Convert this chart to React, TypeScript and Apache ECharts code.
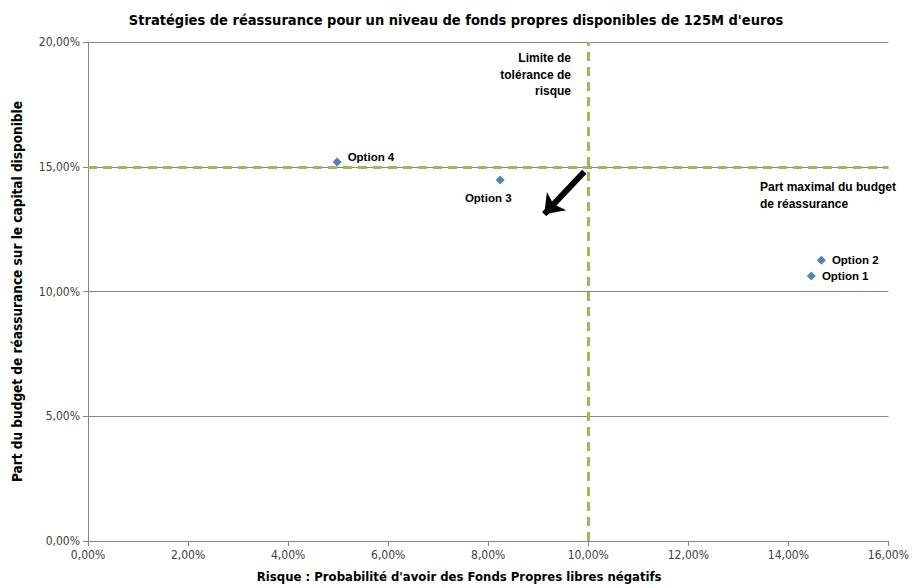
import React, { useEffect, useRef } from "react";
import * as echarts from "echarts";

const optionNames = ["Option 1", "Option 2", "Option 3", "Option 4"];
const riskValues = [14.46, 14.66, 8.24, 4.98];
const budgetValues = [10.62, 11.25, 14.47, 15.19];
const labelPositions = ["right", "right", "bottom", "right"];
const xTicks = { min: 0, max: 16, interval: 2 };
const yTicks = { min: 0, max: 20, interval: 5 };
const riskLimit = 10;
const budgetLimit = 15;
const arrowFrom = [9.92, 14.8];
const arrowTo = [9.12, 13.1];

const fmt = (v: number) => v.toFixed(2).replace(".", ",") + "%";

export default function App() {
  const ref = useRef<HTMLDivElement>(null);
  useEffect(() => {
    document.body.style.margin = "0";
    const chart = echarts.init(ref.current!, null, { renderer: "svg" });
    const font = "'Liberation Sans Narrow', 'DejaVu Sans Condensed', 'Liberation Sans', sans-serif";
    const labelFont = "'Liberation Sans', Arial, sans-serif";
    const data = optionNames.map((n, i) => ({
      name: n,
      value: [riskValues[i], budgetValues[i]],
      label: {
        show: true,
        position: labelPositions[i],
        formatter: n,
        distance: labelPositions[i] === "bottom" ? 8 : 6,
        offset: labelPositions[i] === "bottom" ? [-12, 0] : i === 3 ? [0, -5] : [0, 0],
      },
    }));
    chart.setOption({
      animation: false,
      textStyle: { fontFamily: font },
      title: {
        text: "Stratégies de réassurance pour un niveau de fonds propres disponibles de 125M d'euros",
        left: "center",
        top: 7,
        textStyle: { fontSize: 14.5, fontWeight: "bold", color: "#000", fontFamily: font },
      },
      grid: { left: 88, right: 22, top: 42, bottom: 47 },
      xAxis: {
        type: "value",
        min: xTicks.min,
        max: xTicks.max,
        interval: xTicks.interval,
        name: "Risque : Probabilité d'avoir des Fonds Propres libres négatifs",
        nameLocation: "middle",
        nameGap: 29,
        nameTextStyle: { fontSize: 13, fontWeight: "bold", color: "#000", padding: [0, 58, 0, 0] },
        axisLine: { show: true, lineStyle: { color: "#868686" } },
        axisTick: { show: true, length: 5, lineStyle: { color: "#868686" } },
        axisLabel: { formatter: fmt, fontSize: 12, color: "#404040", margin: 8 },
        splitLine: { show: false },
      },
      yAxis: {
        type: "value",
        min: yTicks.min,
        max: yTicks.max,
        interval: yTicks.interval,
        name: "Part du budget de réassurance sur le capital disponible",
        nameLocation: "middle",
        nameGap: 64,
        nameTextStyle: { fontSize: 13.5, fontWeight: "bold", color: "#000" },
        axisLine: { show: true, lineStyle: { color: "#868686" } },
        axisTick: { show: true, length: 5, lineStyle: { color: "#868686" } },
        axisLabel: { formatter: fmt, fontSize: 12, color: "#404040", margin: 8 },
        splitLine: { show: true, lineStyle: { color: "#868686" } },
      },
      series: [
        {
          type: "scatter",
          symbol: "diamond",
          symbolSize: 9,
          itemStyle: { color: "#4F81BD", opacity: 1 },
          label: { fontSize: 11.5, fontWeight: "bold", color: "#000", fontFamily: labelFont },
          data,
          markLine: {
            silent: true,
            symbol: ["none", "none"],
            label: { show: false },
            lineStyle: { color: "#9BBB59", width: 3, type: [9, 6] },
            data: [{ xAxis: riskLimit }, { yAxis: budgetLimit }],
          },
          z: 3,
        },
        {
          type: "scatter",
          data: [],
          markLine: {
            silent: true,
            symbol: ["none", "arrow"],
            symbolSize: [20, 18],
            label: { show: false },
            lineStyle: { color: "#000", width: 6, type: "solid" },
            data: [[{ coord: arrowFrom }, { coord: arrowTo }]],
          },
        },
      ],
      graphic: [
        {
          type: "text",
          x: 571,
          y: 50,
          style: {
            text: "Limite de\ntolérance de\nrisque",
            align: "right",
            verticalAlign: "top",
            fontSize: 12,
            fontWeight: "bold",
            lineHeight: 16.5,
            fill: "#000",
            fontFamily: labelFont,
          },
        },
        {
          type: "text",
          x: 760,
          y: 178,
          style: {
            text: "Part maximal du budget\nde réassurance",
            align: "left",
            verticalAlign: "top",
            fontSize: 12,
            fontWeight: "bold",
            lineHeight: 17,
            fill: "#000",
            fontFamily: labelFont,
          },
        },
      ],
    });
    return () => chart.dispose();
  }, []);
  return <div ref={ref} style={{ width: 912, height: 588 }} />;
}
